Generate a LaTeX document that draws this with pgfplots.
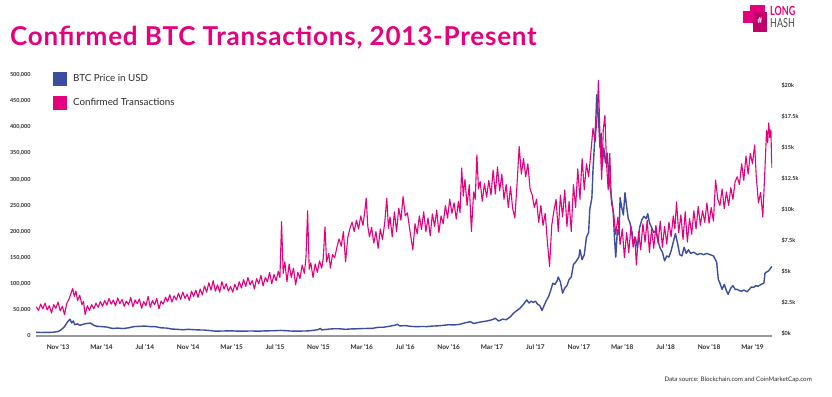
\documentclass[border=0pt]{standalone}
\usepackage{pgfplots}
\pgfplotsset{compat=1.18}
\usepackage{fontspec}
\usepackage{graphicx}
\setmainfont{Lato}
\definecolor{pinkc}{HTML}{E5007D}
\definecolor{bluec}{HTML}{3A4DA0}
\definecolor{txt}{HTML}{2B2B2B}
\begin{document}
\begin{tikzpicture}
\path (0pt,0pt) rectangle (832pt,-396pt);
\node[anchor=base west, inner sep=0, text=pinkc, font=\fontsize{26}{30}\selectfont\bfseries\addfontfeatures{LetterSpace=3}] at (10pt,-46pt) {Confirmed BTC Transactions, 2013-Present};
% logo
\fill[pinkc] (743pt,-11pt) rectangle (753pt,-23pt);
\fill[pinkc] (750pt,-5pt) rectangle (765pt,-13pt);
\fill[pinkc!85!black] (753pt,-12pt) rectangle (767pt,-32pt);
\node[inner sep=0, text=white, font=\fontsize{8}{9}\selectfont\bfseries] at (760pt,-21pt) {\#};
\node[anchor=base west, inner sep=0, text=pinkc, font=\fontsize{12.5}{13}\selectfont\bfseries] at (770pt,-16pt) {\scalebox{0.72}[1]{LONG}};
\node[anchor=base west, inner sep=0, text=black!70, font=\fontsize{12.5}{13}\selectfont] at (770pt,-28pt) {\scalebox{0.72}[1]{HASH}};
\node[anchor=base east, inner sep=0, text=txt, font=\fontsize{6.2}{7}\selectfont] at (812pt,-381pt) {Data source: Blockchain.com and CoinMarketCap.com};

\begin{axis}[
  at={(36pt,-336pt)}, anchor=south west, scale only axis, width=736pt, height=261pt,
  xmin=7.97, xmax=75.8, ymin=-160, ymax=20890,
  scaled ticks=false,
  axis x line=none, axis y line*=right, y axis line style={draw=none},
  ytick={0,2500,...,20000},
  yticklabels={\$0k,\$2.5k,\$5k,\$7.5k,\$10k,\$12.5k,\$15k,\$17.5k,\$20k},
  major tick length=0pt,
  yticklabel style={font=\fontsize{5.5}{6}\selectfont\bfseries, text=txt, anchor=west, xshift=6pt},
]
\addplot[bluec, line width=1.4pt, line join=round] coordinates {
(7.97,130)(8.5,125)(9.0,135)(9.5,140)(10.0,200)(10.3,350)(10.6,600)(10.9,1000)(11.1,1200)(11.25,900)
(11.4,1050)(11.55,750)(11.8,820)(12.0,700)(12.3,780)(12.6,850)(13.0,880)(13.3,700)(13.6,620)(14.0,600)
(14.5,560)(15.0,450)(15.5,480)(16.0,440)(16.5,500)(17.0,600)(17.5,620)(18.0,640)(18.5,600)(19.0,590)
(19.5,500)(20.0,480)(20.5,400)(21.0,380)(21.5,340)(22.0,380)(22.5,350)(23.0,330)(23.5,320)(24.0,280)
(24.5,230)(25.0,240)(25.5,250)(26.0,260)(26.5,230)(27.0,230)(27.5,240)(28.0,240)(28.5,230)(29.0,250)
(29.5,260)(30.0,270)(30.5,290)(31.0,270)(31.5,240)(32.0,230)(32.5,240)(33.0,250)(33.5,290)(34.0,360)
(34.15,460)(34.3,330)(34.6,360)(35.0,400)(35.5,430)(36.0,420)(36.5,380)(37.0,410)(37.5,420)(38.0,440)
(38.5,450)(39.0,460)(39.5,540)(40.0,550)(40.5,620)(41.0,700)(41.3,780)(41.5,650)(42.0,680)(42.5,620)
(43.0,590)(43.5,610)(44.0,600)(44.5,640)(45.0,660)(45.5,700)(46.0,750)(46.5,730)(47.0,780)(47.5,900)
(48.0,1000)(48.3,850)(48.6,900)(49.0,980)(49.5,1050)(50.0,1150)(50.3,1270)(50.6,1050)(51.0,1200)(51.3,1150)
(51.7,1400)(52.0,1700)(52.3,1900)(52.6,2100)(52.9,2400)(53.2,2750)(53.4,2500)(53.6,2650)(53.8,2550)(54.0,2650)
(54.2,2400)(54.4,2300)(54.6,1900)(54.8,2300)(55.0,2700)(55.2,3000)(55.4,3500)(55.6,4100)(55.8,4000)(56.0,4300)
(56.1,4600)(56.3,4200)(56.5,3300)(56.7,3700)(56.9,3900)(57.1,4400)(57.3,4600)(57.5,5600)(57.7,5800)(58.0,6200)
(58.1,6800)(58.3,6000)(58.5,6400)(58.7,7800)(58.9,8200)(59.0,10000)(59.2,11000)(59.3,13200)(59.45,15500)(59.55,17000)
(59.65,19300)(59.8,17500)(59.95,15000)(60.05,16200)(60.15,13500)(60.3,15000)(60.45,13800)(60.6,14600)(60.8,12400)(61.0,11000)
(61.15,10000)(61.3,7500)(61.4,6200)(61.55,8400)(61.7,8000)(61.8,11000)(61.95,10200)(62.1,9600)(62.25,11400)(62.4,10300)
(62.55,9300)(62.7,9000)(62.9,8200)(63.0,7300)(63.2,7800)(63.4,6900)(63.6,8600)(63.8,9200)(64.0,9500)(64.2,9300)
(64.35,9700)(64.5,9000)(64.7,8600)(64.9,8200)(65.1,8300)(65.3,7500)(65.5,6900)(65.7,6600)(65.9,5900)(66.1,6300)
(66.3,6200)(66.5,6700)(66.7,7400)(66.9,8100)(67.1,7300)(67.3,6400)(67.5,6300)(67.7,7000)(67.9,6500)(68.1,6800)
(68.3,6500)(68.6,6600)(68.9,6400)(69.2,6500)(69.5,6400)(69.8,6500)(70.1,6400)(70.4,6300)(70.7,5800)(70.85,4400)
(71.0,4100)(71.2,3600)(71.4,4000)(71.6,3500)(71.75,3200)(72.0,3700)(72.2,3900)(72.4,3600)(72.6,3600)(72.8,3500)
(73.0,3450)(73.2,3550)(73.5,3400)(73.7,3600)(73.9,3800)(74.1,3750)(74.3,3900)(74.5,3850)(74.7,3950)(74.9,4050)
(75.05,4100)(75.15,4900)(75.3,5000)(75.5,5100)(75.65,5300)(75.8,5450)
};
\end{axis}

\begin{axis}[
  at={(36pt,-336pt)}, anchor=south west, scale only axis, width=736pt, height=261pt,
  xmin=7.97, xmax=75.8, ymin=0, ymax=500000,
  scaled ticks=false,
  axis x line*=bottom, axis y line*=left,
  y axis line style={draw=none},
  x axis line style={draw=black!40, line width=1.2pt, -},
  major tick length=0pt,
  xtick={10,14,...,74},
  xticklabels={Nov '13,Mar '14,Jul '14,Nov '14,Mar '15,Jul '15,Nov '15,Mar '16,Jul '16,Nov '16,Mar '17,Jul '17,Nov '17,Mar '18,Jul '18,Nov '18,Mar '19},
  xticklabel style={font=\fontsize{6.5}{7}\selectfont\bfseries, text=txt, yshift=-5pt},
  ytick={0,50000,...,500000},
  yticklabels={0,{50,000},{100,000},{150,000},{200,000},{250,000},{300,000},{350,000},{400,000},{450,000},{500,000}},
  yticklabel style={font=\fontsize{5.5}{6}\selectfont\bfseries, text=txt, anchor=east, xshift=-2pt},
  legend image code/.code={\fill[#1,draw=none] (0pt,-7pt) rectangle (14pt,7pt); \path[draw=none,fill=none] (18pt,0pt) rectangle (18pt,0pt);},
  legend style={at={(axis description cs:0.023,1.012)}, anchor=north west, draw=none, fill=none,
    inner sep=0pt, font=\fontsize{9.8}{12}\selectfont, text=txt, row sep=9.5pt},
  legend cell align=left,
]
\addlegendimage{bluec}
\addlegendentry{BTC Price in USD}
\addplot[pinkc, line width=1.1pt, line join=round] coordinates {
(8.0,56000)(8.2,49000)(8.4,61000)(8.6,52000)(8.8,63000)(9.0,50000)(9.2,58000)(9.4,44000)(9.6,60000)(9.8,53000)
(10.0,65000)(10.2,48000)(10.4,57000)(10.6,41000)(10.8,62000)(11.0,70000)(11.2,82000)(11.35,91000)(11.5,76000)(11.65,86000)
(11.8,68000)(12.0,78000)(12.2,60000)(12.35,66000)(12.5,41000)(12.7,58000)(12.9,49000)
(13.1,60000)(13.3,52000)(13.5,63000)(13.7,55000)(13.9,66000)(14.1,57000)(14.3,68000)(14.5,59000)(14.7,72000)(14.9,61000)
(15.1,69000)(15.3,58000)(15.5,73000)(15.7,62000)(15.9,70000)(16.1,57000)(16.3,67000)(16.5,60000)(16.7,74000)(16.9,56000)
(17.1,69000)(17.3,62000)(17.5,71000)(17.7,53000)(17.9,66000)(18.1,58000)(18.3,76000)(18.5,55000)(18.7,68000)(18.9,60000)
(19.1,72000)(19.3,52000)(19.5,67000)(19.7,61000)(19.9,74000)(20.1,66000)(20.3,79000)(20.5,65000)
(20.7,77000)(20.9,69000)(21.1,82000)(21.3,70000)(21.5,84000)(21.7,72000)(21.9,80000)(22.1,68000)(22.3,86000)(22.5,76000)
(22.7,88000)(22.9,74000)(23.1,90000)(23.3,79000)(23.5,96000)(23.7,84000)(23.9,102000)(24.1,88000)(24.3,106000)(24.5,86000)
(24.7,98000)(24.9,84000)(25.1,104000)(25.3,90000)(25.5,100000)(25.7,86000)(25.9,95000)
(26.1,84000)(26.3,99000)(26.5,88000)(26.7,104000)(26.9,92000)(27.1,108000)(27.3,95000)(27.5,112000)(27.7,98000)(27.9,106000)
(28.1,90000)(28.3,110000)(28.5,100000)(28.7,116000)(28.9,96000)(29.1,112000)(29.3,104000)(29.5,122000)(29.7,100000)(29.9,118000)
(30.1,106000)(30.3,124000)(30.45,112000)(30.6,219000)(30.75,120000)(30.9,142000)(31.1,104000)(31.3,138000)(31.5,112000)(31.7,130000)
(31.9,98000)(32.1,122000)(32.3,110000)(32.5,136000)(32.7,120000)(32.85,150000)(33.0,240000)(33.15,128000)(33.3,140000)(33.5,112000)
(33.7,138000)(33.9,122000)(34.1,144000)(34.3,130000)(34.45,150000)(34.6,209000)(34.75,142000)(34.95,158000)(35.1,130000)(35.3,156000)
(35.5,150000)(35.7,170000)(35.9,186000)(36.1,172000)(36.3,200000)(36.5,142000)(36.7,188000)(36.9,206000)(37.1,218000)(37.3,200000)
(37.5,222000)(37.7,205000)(37.9,230000)(38.1,212000)(38.25,235000)(38.4,264000)(38.55,210000)(38.7,190000)(38.9,208000)(39.1,178000)
(39.3,200000)(39.5,168000)(39.7,205000)(39.9,185000)(40.1,215000)(40.3,264000)(40.45,206000)(40.6,228000)(40.8,190000)(41.0,238000)
(41.2,200000)(41.4,245000)(41.6,222000)(41.8,267000)(42.0,230000)(42.2,236000)(42.4,206000)(42.7,165000)(42.9,215000)(43.1,196000)
(43.3,230000)(43.5,204000)(43.7,238000)(43.9,200000)(44.1,226000)(44.3,192000)(44.5,234000)(44.7,210000)(44.9,241000)(45.1,198000)
(45.3,230000)(45.5,215000)(45.7,250000)(45.9,226000)(46.1,262000)(46.3,235000)(46.5,255000)(46.7,224000)(46.9,258000)(47.05,236000)
(47.2,322000)(47.35,268000)(47.5,300000)(47.7,250000)(47.9,290000)(48.1,200000)(48.3,276000)(48.45,262000)(48.6,347000)(48.75,282000)
(48.9,296000)(49.1,258000)(49.3,292000)(49.5,266000)(49.7,298000)(49.9,270000)(50.1,318000)(50.3,272000)(50.5,324000)(50.7,278000)
(50.9,310000)(51.1,262000)(51.3,290000)(51.5,246000)(51.7,286000)(51.9,244000)(52.1,226000)(52.3,290000)(52.5,363000)(52.7,310000)
(52.9,340000)(53.1,305000)(53.3,330000)(53.5,282000)(53.7,270000)(53.9,246000)(54.1,262000)(54.3,218000)(54.5,250000)(54.7,212000)
(54.9,235000)(55.1,180000)(55.3,133000)(55.5,212000)(55.7,240000)(55.9,262000)(56.1,200000)(56.3,270000)(56.5,228000)(56.7,280000)
(56.9,210000)(57.1,258000)(57.3,200000)(57.5,290000)(57.7,246000)(57.9,320000)(58.1,262000)(58.3,340000)(58.5,280000)(58.7,330000)
(58.9,305000)(59.1,350000)(59.3,398000)(59.5,372000)(59.7,427000)(59.8,490000)(59.95,380000)(60.1,300000)(60.25,395000)(60.4,423000)
(60.55,330000)(60.7,280000)(60.85,350000)(61.0,255000)(61.2,236000)(61.4,195000)(61.6,228000)(61.8,175000)(62.0,205000)(62.2,150000)
(62.4,198000)(62.6,160000)(62.8,210000)(63.0,170000)(63.15,190000)(63.3,136000)(63.5,200000)(63.7,165000)(63.9,215000)(64.1,180000)
(64.3,222000)(64.5,160000)(64.7,205000)(64.9,168000)(65.1,212000)(65.3,178000)(65.5,220000)(65.7,170000)(65.9,210000)(66.1,176000)
(66.3,218000)(66.5,190000)(66.7,230000)(66.85,205000)(67.0,257000)(67.2,198000)(67.4,232000)(67.6,185000)(67.8,238000)(68.0,180000)
(68.2,225000)(68.4,195000)(68.6,240000)(68.8,205000)(69.0,248000)(69.2,212000)(69.4,240000)(69.6,218000)(69.8,255000)(70.0,216000)
(70.2,246000)(70.4,220000)(70.6,299000)(70.8,262000)(71.0,250000)(71.2,282000)(71.4,244000)(71.6,276000)(71.8,250000)(72.0,284000)
(72.2,262000)(72.4,296000)(72.6,305000)(72.8,290000)(73.0,330000)(73.2,298000)(73.4,345000)(73.6,310000)(73.8,350000)(74.0,330000)
(74.2,366000)(74.35,305000)(74.55,255000)(74.75,275000)(74.95,228000)(75.15,320000)(75.3,394000)(75.4,370000)(75.5,408000)(75.6,380000)
(75.7,395000)(75.75,345000)(75.8,322000)
};
\addlegendentry{Confirmed Transactions}
\end{axis}
\end{tikzpicture}
\end{document}
